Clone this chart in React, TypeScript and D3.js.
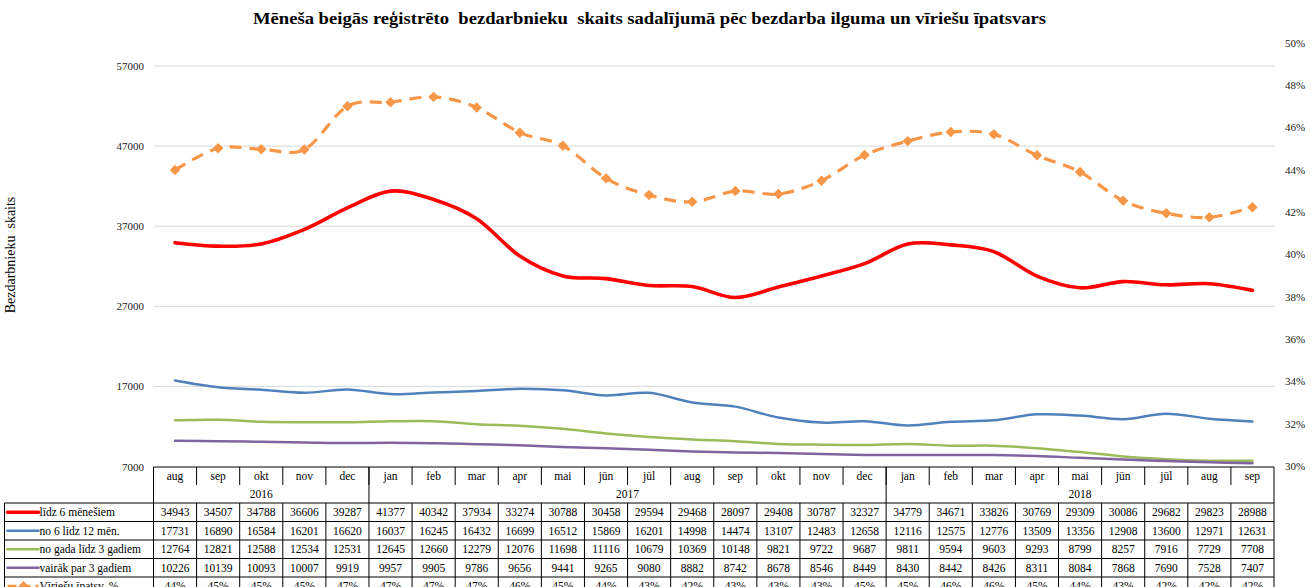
import React from "react";
import * as d3 from "d3";

const months = ["aug","sep","okt","nov","dec","jan","feb","mar","apr","mai","jūn","jūl","aug","sep","okt","nov","dec","jan","feb","mar","apr","mai","jūn","jūl","aug","sep"];
const years: [string, number][] = [["2016", 5], ["2017", 12], ["2018", 9]];

const lidz6 = [34943,34507,34788,36606,39287,41377,40342,37934,33274,30788,30458,29594,29468,28097,29408,30787,32327,34779,34671,33826,30769,29309,30086,29682,29823,28988];
const no6lidz12 = [17731,16890,16584,16201,16620,16037,16245,16432,16699,16512,15869,16201,14998,14474,13107,12483,12658,12116,12575,12776,13509,13356,12908,13600,12971,12631];
const noGada = [12764,12821,12588,12534,12531,12645,12660,12279,12076,11698,11116,10679,10369,10148,9821,9722,9687,9811,9594,9603,9293,8799,8257,7916,7729,7708];
const vairak3 = [10226,10139,10093,10007,9919,9957,9905,9786,9656,9441,9265,9080,8882,8742,8678,8546,8449,8430,8442,8426,8311,8084,7868,7690,7528,7407];
const viriesu = [43.98,45.01,44.97,44.95,47.0,47.19,47.44,46.94,45.75,45.13,43.59,42.8,42.48,42.99,42.85,43.48,44.69,45.35,45.78,45.67,44.68,43.89,42.53,41.94,41.75,42.23];

const leftTicks = [7000, 17000, 27000, 37000, 47000, 57000];
const rightTicks = [30, 32, 34, 36, 38, 40, 42, 44, 46, 48, 50];

const series = [
  { name: "līdz 6 mēnešiem", values: lidz6, color: "#FF0000", width: 3.6 },
  { name: "no 6 līdz 12 mēn.", values: no6lidz12, color: "#4F81BD", width: 2.5 },
  { name: "no gada līdz 3 gadiem", values: noGada, color: "#9BBB59", width: 2.5 },
  { name: "vairāk par 3 gadiem", values: vairak3, color: "#8064A2", width: 2.5 },
];
const pctName = "Vīriešu īpatsv.,%";
const pctColor = "#F79646";

const W = 1315, H = 587;
const x0 = 153.5, x1 = 1274;
const yTop = 66, yBot = 466.5;
const FONT = "'Liberation Serif', 'Times New Roman', serif";

export default function App() {
  const idx = months.map((_, i) => i);
  const x = d3.scaleBand<number>().domain(idx).range([x0, x1]).padding(0);
  const bw = x.bandwidth();
  const cx = (i: number) => (x(i) as number) + bw / 2;
  const yL = d3.scaleLinear().domain([7000, 57000]).range([yBot, yTop]);
  const yR = d3.scaleLinear().domain([30, 50]).range([466, 42.7]);

  const line = d3.line<number>().x((_, i) => cx(i)).curve(d3.curveCardinal.tension(0));
  const lineL = (vals: number[]) => line.y((v) => yL(v))(vals) as string;
  const lineR = (vals: number[]) => line.y((v) => yR(v))(vals) as string;

  const tableTop = 467;
  const monthRowH = 18;
  const yearRowH = 18;
  const dataTop = tableTop + monthRowH + yearRowH;
  const rowH = 18.5;
  const legendLeft = 4.5;

  const diamond = d3.symbol().type(d3.symbolDiamond2).size(70)() as string;

  const rows = [
    ...series.map((s) => ({ name: s.name, vals: s.values.map((v) => String(v)), color: s.color, pct: false })),
    { name: pctName, vals: viriesu.map((v) => Math.round(v) + "%"), color: pctColor, pct: true },
  ];

  let acc = 0;
  const yearCells = years.map(([label, n]) => {
    const start = acc;
    acc += n;
    return { label, start, end: acc };
  });

  return (
    <svg width={W} height={H} style={{ position: "absolute", left: 0, top: 0, background: "#fff" }} fontFamily={FONT}>
      <rect x={0} y={0} width={W} height={H} fill="#fff" />
      <text x={649.5} y={24} textAnchor="middle" fontWeight="bold" fontSize={17.5} fill="#000" textLength={793} lengthAdjust="spacingAndGlyphs" style={{ whiteSpace: "pre" }}>
        {"Mēneša beigās reģistrēto  bezdarbnieku  skaits sadalījumā pēc bezdarba ilguma un vīriešu īpatsvars"}
      </text>

      {/* gridlines */}
      {leftTicks.filter((t) => t > 7000).map((t) => (
        <line key={t} x1={x0} x2={x1 + 1} y1={yL(t)} y2={yL(t)} stroke="#D9D9D9" strokeWidth={1} />
      ))}
      {/* left ticks */}
      {leftTicks.map((t) => (
        <text key={t} x={144} y={yL(t) + 4} textAnchor="end" fontSize={11} fill="#222">{t}</text>
      ))}
      {/* right ticks */}
      {rightTicks.map((t) => (
        <text key={t} x={1285} y={yR(t) + 4} textAnchor="start" fontSize={11} fill="#222">{t + "%"}</text>
      ))}
      <text transform={`translate(15,255) rotate(-90)`} textAnchor="middle" fontSize={14} fill="#000" style={{ whiteSpace: "pre" }}>{"Bezdarbnieku  skaits"}</text>

      {/* series */}
      {series.map((s) => (
        <path key={s.name} d={lineL(s.values)} fill="none" stroke={s.color} strokeWidth={s.width} strokeLinecap="round" />
      ))}
      <path d={lineR(viriesu)} fill="none" stroke={pctColor} strokeWidth={3.2} strokeDasharray="12 8" />
      {viriesu.map((v, i) => (
        <path key={i} d={diamond} transform={`translate(${cx(i)},${yR(v)})`} fill={pctColor} />
      ))}

      {/* table: month row */}
      <g fontSize={11.5} fill="#000">
        <line x1={x0} x2={x1} y1={tableTop} y2={tableTop} stroke="#000" strokeWidth={1} />
        {idx.map((i) => (
          <text key={"m" + i} x={cx(i)} y={tableTop + 13} textAnchor="middle">{months[i]}</text>
        ))}
        {idx.slice(1).map((i) => (
          <line key={"mv" + i} x1={x(i) as number} x2={x(i) as number} y1={tableTop} y2={tableTop + monthRowH} stroke="#000" strokeWidth={1} />
        ))}
        {yearCells.map((c) => (
          <text key={c.label} x={((x(c.start) as number) + (c.end < months.length ? (x(c.end) as number) : x1)) / 2} y={tableTop + monthRowH + 13} textAnchor="middle">{c.label}</text>
        ))}
        {[0, ...yearCells.map((c) => c.end)].map((e) => {
          const xx = e < months.length ? (x(e) as number) : x1;
          return <line key={"yv" + e} x1={xx} x2={xx} y1={tableTop} y2={dataTop} stroke="#000" strokeWidth={1} />;
        })}

        {/* data rows */}
        {rows.map((r, ri) => {
          const ry = dataTop + ri * rowH;
          return (
            <g key={r.name}>
              <line x1={legendLeft} x2={x1} y1={ry} y2={ry} stroke="#000" strokeWidth={1} />
              {r.pct ? (
                <g>
                  <line x1={legendLeft + 3} x2={legendLeft + 34} y1={ry + rowH / 2} y2={ry + rowH / 2} stroke={pctColor} strokeWidth={3} strokeDasharray="9 5" />
                  <path d={diamond} transform={`translate(${legendLeft + 19},${ry + rowH / 2})`} fill={pctColor} />
                </g>
              ) : (
                <line x1={legendLeft + 3} x2={legendLeft + 34} y1={ry + rowH / 2} y2={ry + rowH / 2} stroke={r.color} strokeWidth={ri === 0 ? 3.6 : 2.5} strokeLinecap="round" />
              )}
              <text x={legendLeft + 35} y={ry + 13} textAnchor="start">{r.name}</text>
              {r.vals.map((v, i) => (
                <text key={i} x={cx(i)} y={ry + 13} textAnchor="middle">{v}</text>
              ))}
            </g>
          );
        })}
        <line x1={legendLeft} x2={x1} y1={dataTop + rows.length * rowH} y2={dataTop + rows.length * rowH} stroke="#000" strokeWidth={1} />
        {/* verticals in data area */}
        {[legendLeft, ...idx.map((i) => x(i) as number), x1].map((xx, k) => (
          <line key={"dv" + k} x1={xx} x2={xx} y1={dataTop} y2={dataTop + rows.length * rowH} stroke="#000" strokeWidth={1} />
        ))}
      </g>
    </svg>
  );
}
